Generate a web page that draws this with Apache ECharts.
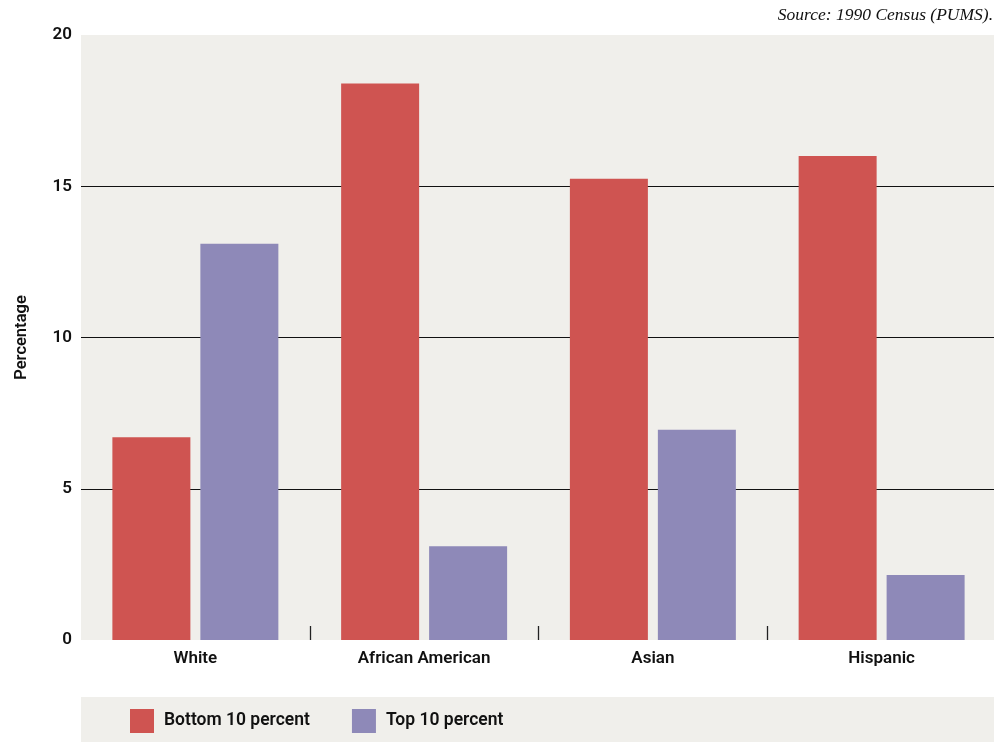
<!DOCTYPE html>
<html>
<head>
<meta charset="utf-8">
<script src="https://cdn.jsdelivr.net/npm/echarts@6/dist/echarts.min.js"></script>
<style>html,body{margin:0;padding:0;background:#fff}#c{width:994px;height:742px}</style>
</head>
<body>
<div id="c"></div>
<script>
const categories = ['White', 'African American', 'Asian', 'Hispanic'];
const bottom10 = [6.7, 18.4, 15.25, 16.0];
const top10 = [13.1, 3.1, 6.95, 2.15];
const yTicks = [0, 5, 10, 15, 20];
const seriesNames = ['Bottom 10 percent', 'Top 10 percent'];
const sourceText = 'Source: 1990 Census (PUMS).';
const yAxisName = 'Percentage';

const chart = echarts.init(document.getElementById('c'), null, {renderer: 'canvas'});
const labelFont = 'Roboto';
chart.setOption({
  animation: false,
  backgroundColor: '#ffffff',
  graphic: [
    {type: 'rect', left: 81, top: 697, shape: {width: 913, height: 45}, style: {fill: '#f0efeb'}, z: -1},
    {type: 'text', right: 1, top: 6, style: {text: sourceText, font: 'italic 17.5px "Liberation Serif"', fill: '#111'}}
  ],
  grid: {left: 81, right: -2, top: 35, bottom: 102, show: true, backgroundColor: '#f0efeb', borderWidth: 0,
    containLabel: false, outerBoundsMode: 'none'},
  legend: {
    data: seriesNames,
    left: 130, top: 709, padding: 0,
    itemWidth: 24, itemHeight: 24, itemGap: 42,
    icon: 'rect',
    textStyle: {fontFamily: labelFont, fontWeight: 600, fontSize: 17.5, color: '#111', padding: [2, 0, 0, 5]}
  },
  xAxis: {
    type: 'category',
    data: categories,
    axisLine: {show: false},
    axisTick: {show: true, inside: true, length: 14, lineStyle: {color: '#222', width: 1.3},
      interval: function (idx) { return idx > 0 && idx < categories.length; }},
    axisLabel: {fontFamily: labelFont, fontWeight: 600, fontSize: 17, color: '#111', margin: 10}
  },
  yAxis: {
    type: 'value',
    min: yTicks[0], max: yTicks[yTicks.length - 1], interval: 5,
    name: yAxisName, nameLocation: 'middle', nameRotate: 90, nameGap: 51,
    nameTextStyle: {fontFamily: labelFont, fontWeight: 600, fontSize: 16.5, color: '#111'},
    axisLine: {show: false},
    axisTick: {show: false},
    axisLabel: {fontFamily: labelFont, fontWeight: 600, fontSize: 17, color: '#111', margin: 9},
    splitLine: {show: true, lineStyle: {color: ['rgba(0,0,0,0)', '#111', '#111', '#111', 'rgba(0,0,0,0)'], width: 1.2}}
  },
  series: [
    {name: seriesNames[0], type: 'bar', data: bottom10, barWidth: 78, barGap: '12.8%', itemStyle: {color: '#cf5451'}},
    {name: seriesNames[1], type: 'bar', data: top10, barWidth: 78, itemStyle: {color: '#8e89b8'}}
  ]
});
</script>
</body>
</html>
